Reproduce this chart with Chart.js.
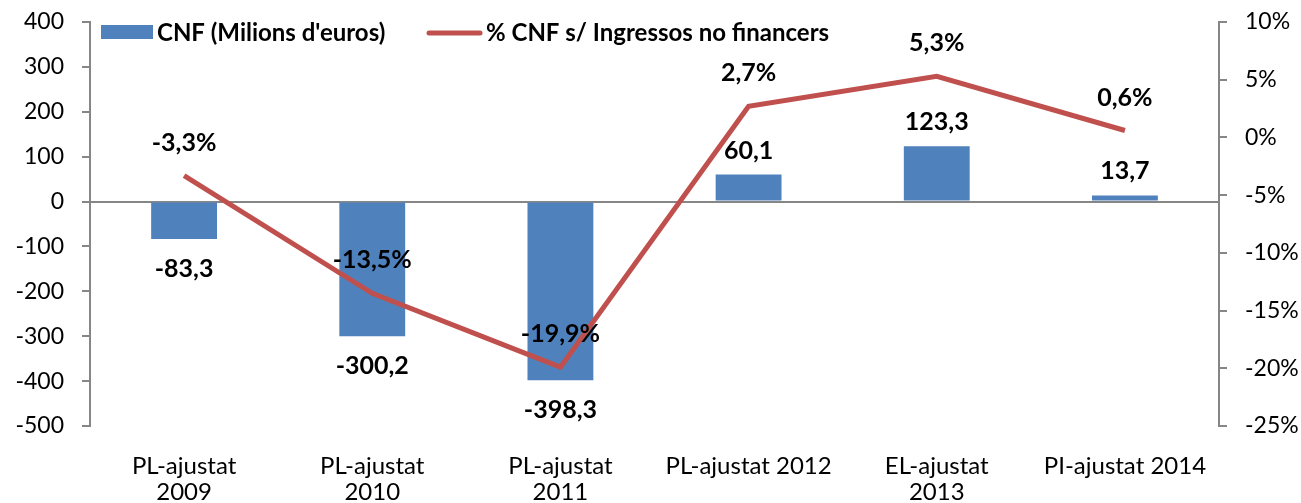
<!DOCTYPE html>
<html>
<head>
<meta charset="utf-8">
<script src="https://cdn.jsdelivr.net/npm/chart.js@4/dist/chart.umd.min.js"></script>
<style>
  html, body { margin: 0; padding: 0; background: #fff; }
  #wrap { width: 1301px; height: 503px; }
</style>
</head>
<body>
<div id="wrap"><canvas id="cnf-chart"></canvas></div>
<script>
const categories = [
    ['PL-ajustat', '2009'],
    ['PL-ajustat', '2010'],
    ['PL-ajustat', '2011'],
    'PL-ajustat 2012',
    ['EL-ajustat', '2013'],
    'PI-ajustat 2014'
];
const cnfValues = [-83.3, -300.2, -398.3, 60.1, 123.3, 13.7];
const pctValues = [-3.3, -13.5, -19.9, 2.7, 5.3, 0.6];
const seriesNames = ['CNF (Milions d\'euros)', '% CNF s/ Ingressos no financers'];

const barColor = '#4F81BD';
const lineColor = '#C0504D';
const axisColor = '#868686';
const fontFamily = 'Lato, "Open Sans", sans-serif';

const fmt = (v, d) => v.toFixed(d).replace('.', ',');

// data labels for bars and line points
const valueLabelsPlugin = {
    id: 'valueLabels',
    afterDatasetsDraw(chart) {
        const ctx = chart.ctx;
        ctx.save();
        ctx.font = 'bold 25px ' + fontFamily;
        ctx.fillStyle = '#000';
        ctx.textAlign = 'center';
        ctx.textBaseline = 'middle';
        chart.getDatasetMeta(0).data.forEach((bar, i) => {
            const v = cnfValues[i];
            const y = v < 0 ? bar.y + 30 : bar.y - 24;
            ctx.fillText(fmt(v, 1), bar.x, y);
        });
        chart.getDatasetMeta(1).data.forEach((pt, i) => {
            ctx.fillText(fmt(pctValues[i], 1) + '%', pt.x, pt.y - 33);
        });
        ctx.restore();
    }
};

// legend sitting inside the plot area, like the original
const insideLegendPlugin = {
    id: 'insideLegend',
    afterDraw(chart) {
        const ctx = chart.ctx;
        ctx.save();
        ctx.font = 'bold 24px ' + fontFamily;
        ctx.textBaseline = 'middle';
        ctx.fillStyle = barColor;
        ctx.fillRect(101, 25, 52, 14);
        ctx.fillStyle = '#000';
        ctx.fillText(seriesNames[0], 157, 33);
        ctx.strokeStyle = lineColor;
        ctx.lineWidth = 5;
        ctx.lineCap = 'round';
        ctx.beginPath();
        ctx.moveTo(429, 33);
        ctx.lineTo(480, 33);
        ctx.stroke();
        ctx.fillText(seriesNames[1], 486, 33);
        ctx.restore();
    }
};

const fitY = w => s => { s.width = w; s.paddingTop = 0; s.paddingBottom = 0; };

const cnfChartCtx = document.getElementById('cnf-chart').getContext('2d');
const cnfChart = new Chart(cnfChartCtx, {
    data: {
        labels: categories,
        datasets: [{
            type: 'bar',
            label: seriesNames[0],
            data: cnfValues,
            backgroundColor: barColor,
            yAxisID: 'y',
            barPercentage: 0.35,
            categoryPercentage: 1,
            order: 2
        }, {
            type: 'line',
            label: seriesNames[1],
            data: pctValues,
            borderColor: lineColor,
            borderWidth: 5,
            pointRadius: 0,
            tension: 0,
            yAxisID: 'y1',
            order: 1
        }]
    },
    options: {
        responsive: true,
        maintainAspectRatio: false,
        animation: false,
        layout: { padding: { top: 22, right: 0, bottom: 0, left: 0 } },
        plugins: {
            legend: { display: false },
            tooltip: { enabled: false }
        },
        scales: {
            x: {
                border: { display: false },
                grid: { display: false },
                afterFit: s => { s.height = 77; s.paddingLeft = 0; s.paddingRight = 0; },
                ticks: {
                    color: '#000',
                    font: { family: fontFamily, size: 24, lineHeight: 1.1 },
                    maxRotation: 0,
                    autoSkip: false,
                    padding: 19
                }
            },
            y: {
                position: 'left',
                min: -500,
                max: 400,
                afterFit: fitY(90),
                border: { display: true, color: axisColor, width: 2 },
                grid: {
                    drawOnChartArea: true,
                    color: c => c.tick && c.tick.value === 0 ? axisColor : 'rgba(0,0,0,0)',
                    lineWidth: 2,
                    tickColor: axisColor,
                    tickLength: 8
                },
                ticks: {
                    stepSize: 100,
                    color: '#000',
                    font: { family: fontFamily, size: 23 },
                    padding: 18
                }
            },
            y1: {
                position: 'right',
                min: -25,
                max: 10,
                afterFit: fitY(82),
                border: { display: true, color: axisColor, width: 2 },
                grid: {
                    drawOnChartArea: false,
                    tickColor: axisColor,
                    tickLength: 8,
                    lineWidth: 2
                },
                ticks: {
                    stepSize: 5,
                    color: '#000',
                    font: { family: fontFamily, size: 23 },
                    padding: 18,
                    callback: v => v + '%'
                }
            }
        }
    },
    plugins: [ valueLabelsPlugin, insideLegendPlugin ],
});
</script>
</body>
</html>
